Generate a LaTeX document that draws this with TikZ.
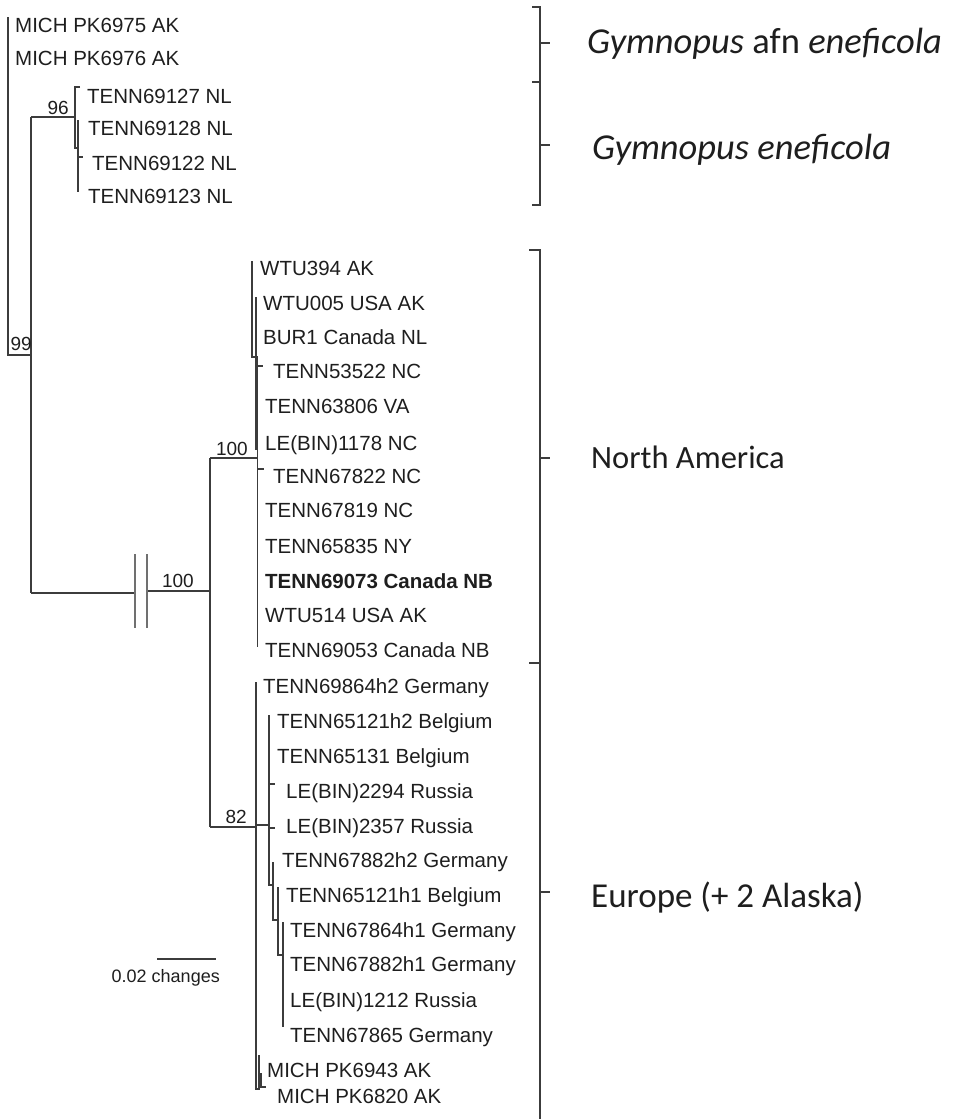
\documentclass[tikz,border=0pt]{standalone}
\usepackage{fontspec}
\setmainfont{Liberation Sans}
\newfontfamily\grpfont{Carlito}
\usepackage{tikz}
\usetikzlibrary{positioning}
\definecolor{linegray}{HTML}{3C3C3C}
\definecolor{bargray}{HTML}{707070}
\definecolor{txt}{HTML}{1E1E1E}

\begin{document}
\begin{tikzpicture}[
  x=1pt, y=-1pt,
  br/.style={draw=linegray, line width=1.3pt},
  cut/.style={draw=bargray, line width=2.4pt},
  brk/.style={draw=linegray, line width=1.6pt},
  tipl/.style={anchor=base west, inner sep=0pt, text=txt, font=\fontsize{20.5}{24}\selectfont},
  bs/.style={anchor=base east, inner sep=0pt, text=txt, font=\fontsize{19}{22}\selectfont},
  grp/.style={anchor=base west, inner sep=0pt, text=txt, font=\grpfont\fontsize{32.5}{38}\selectfont},
  grpi/.style={grp, font=\grpfont\fontsize{36.5}{42}\selectfont}
  ]
  \useasboundingbox (0,0) rectangle (956,1119);

  % root and outgroup
  \coordinate (r0)  at (8,17);
  \coordinate (n99) at (8,355);
  \coordinate (a99) at (31,355);
  \coordinate (a96) at (31,117);
  \coordinate (aIn) at (31,593);
  \draw[br] (r0) -- (n99) -- (a99);
  \draw[br] (a96) -- (aIn);
  \node[bs] (b99) at (32,350) {99};
  \node[tipl] (t6975) at (15,32) {MICH PK6975 AK};
  \node[tipl] (t6976) at (15,65) {MICH PK6976 AK};

  % eneficola clade
  \coordinate (n96)  at (75,117);
  \coordinate (c127) at (75,87);
  \coordinate (e127) at (80,87);
  \coordinate (k148) at (75,148);
  \coordinate (m148) at (78,148);
  \coordinate (c128) at (78,120);
  \coordinate (c123) at (78,192);
  \coordinate (c122) at (78,157);
  \coordinate (e122) at (83,157);
  \draw[br] (a96) -- (n96);
  \draw[br] (e127) -- (c127) -- (k148) -- (m148);
  \draw[br] (c128) -- (c123);
  \draw[br] (c122) -- (e122);
  \node[bs] (b96) at (69,114) {96};
  \node[tipl] (t69127) at (87,103) {TENN69127 NL};
  \node[tipl] (t69128) at (88,135) {TENN69128 NL};
  \node[tipl] (t69122) at (92,170) {TENN69122 NL};
  \node[tipl] (t69123) at (88,203) {TENN69123 NL};

  % long branch to the ingroup
  \coordinate (cutL) at (135,593);
  \coordinate (cutR) at (147,591);
  \coordinate (nIn)  at (210,591);
  \draw[br] (aIn) -- (cutL);
  \draw[br] (cutR) -- (nIn);
  \draw[cut] (135,554) -- (135,628);
  \draw[cut] (147,554) -- (147,628);
  \node[bs] (b100a) at (194,587) {100};

  \coordinate (nNA) at (210,458);
  \coordinate (n82) at (210,827);
  \draw[br] (nNA) -- (n82);

  % North America
  \coordinate (aNA)  at (257,458);
  \coordinate (c394) at (252,261);
  \coordinate (k357) at (252,357);
  \coordinate (m357) at (257.5,357);
  \coordinate (c005) at (256,297);
  \coordinate (k450) at (256,450);
  \coordinate (c053) at (257.5,647);
  \coordinate (c522) at (256,366);
  \coordinate (e522) at (263,366);
  \coordinate (c822) at (257.5,469);
  \coordinate (e822) at (264,469);
  \draw[br] (nNA) -- (aNA);
  \draw[br] (c394) -- (k357) -- (m357);
  \draw[br] (c005) -- (k450);
  \draw[br] (m357) -- (c053);
  \draw[br] (c522) -- (e522);
  \draw[br] (c822) -- (e822);
  \node[bs] (b100b) at (248,455) {100};
  \node[tipl] (tw394)  at (260,275) {WTU394 AK};
  \node[tipl] (tw005)  at (263,310) {WTU005 USA AK};
  \node[tipl] (tbur)   at (263,344) {BUR1 Canada NL};
  \node[tipl] (t53522) at (273,378) {TENN53522 NC};
  \node[tipl] (t63806) at (265,413) {TENN63806 VA};
  \node[tipl] (tl1178) at (265,450) {LE(BIN)1178 NC};
  \node[tipl] (t67822) at (273,483) {TENN67822 NC};
  \node[tipl] (t67819) at (265,517) {TENN67819 NC};
  \node[tipl] (t65835) at (265,553) {TENN65835 NY};
  \node[tipl, font=\fontsize{20.5}{24}\selectfont\bfseries] (t69073) at (265,588) {TENN69073 Canada NB};
  \node[tipl] (tw514)  at (265,622) {WTU514 USA AK};
  \node[tipl] (t69053) at (265,657) {TENN69053 Canada NB};

  % Europe
  \coordinate (aEU)  at (256,827);
  \coordinate (c864) at (256,682);
  \coordinate (k089) at (256,1089);
  \coordinate (m089) at (259,1089);
  \coordinate (c943) at (259,1055);
  \coordinate (c820) at (261,1073);
  \coordinate (k820) at (261,1087);
  \coordinate (e820) at (266,1087);
  \draw[br] (n82) -- (aEU);
  \draw[br] (c864) -- (k089) -- (m089) -- (c943);
  \draw[br] (c820) -- (k820) -- (e820);
  \node[bs] (b82) at (247,823) {82};

  \coordinate (aA)   at (256,825);
  \coordinate (nA)   at (269,825);
  \coordinate (cA)   at (269,715);
  \coordinate (kA)   at (269,885);
  \coordinate (nB)   at (273,885);
  \coordinate (cB)   at (273,862);
  \coordinate (kB)   at (273,920);
  \coordinate (nC)   at (278,920);
  \coordinate (cC)   at (278,887);
  \coordinate (kC)   at (278,955);
  \coordinate (nD)   at (283,955);
  \coordinate (cD)   at (283,922);
  \coordinate (kD)   at (283,1027);
  \coordinate (c294) at (269,784);
  \coordinate (e294) at (275,784);
  \coordinate (c357) at (269,828);
  \coordinate (e357) at (275,828);
  \draw[br] (aA) -- (nA);
  \draw[br] (cA) -- (kA) -- (nB);
  \draw[br] (cB) -- (kB) -- (nC);
  \draw[br] (cC) -- (kC) -- (nD);
  \draw[br] (cD) -- (kD);
  \draw[br] (c294) -- (e294);
  \draw[br] (c357) -- (e357);
  \node[tipl] (t864h2)  at (263,693)  {TENN69864h2 Germany};
  \node[tipl] (t121h2)  at (277,728)  {TENN65121h2 Belgium};
  \node[tipl] (t65131)  at (277,763)  {TENN65131 Belgium};
  \node[tipl] (tl2294)  at (286,798)  {LE(BIN)2294 Russia};
  \node[tipl] (tl2357)  at (286,833)  {LE(BIN)2357 Russia};
  \node[tipl] (t882h2)  at (282,867)  {TENN67882h2 Germany};
  \node[tipl] (t121h1)  at (286,902)  {TENN65121h1 Belgium};
  \node[tipl] (t864h1)  at (290,937)  {TENN67864h1 Germany};
  \node[tipl] (t882h1)  at (290,971)  {TENN67882h1 Germany};
  \node[tipl] (tl1212)  at (290,1007) {LE(BIN)1212 Russia};
  \node[tipl] (t67865)  at (290,1042) {TENN67865 Germany};
  \node[tipl] (t6943)   at (267,1077) {MICH PK6943 AK};
  \node[tipl] (t6820)   at (277,1103) {MICH PK6820 AK};

  % scale bar
  \coordinate (sb0) at (157,959);
  \coordinate (sb1) at (216,959);
  \draw[br] (sb0) -- (sb1);
  \node[bs, font=\fontsize{18}{21}\selectfont] (sbl) at (220,982) {0.02 changes};

  % brackets
  \coordinate (g1t) at (532,7);
  \coordinate (g1m) at (540,43);
  \coordinate (g12) at (532,82);
  \coordinate (g2m) at (540,145);
  \coordinate (g2b) at (532,205);
  \draw[brk] (g1t) -- (540,7) -- (540,82) -- (g12);
  \draw[brk] (540,82) -- (540,205) -- (g2b);
  \draw[brk] (g1m) -- (550,43);
  \draw[brk] (g2m) -- (550,145);
  \coordinate (g3t) at (529,250);
  \coordinate (g3m) at (540,458);
  \coordinate (g3b) at (529,663);
  \coordinate (g4m) at (540,892);
  \draw[brk] (g3t) -- (540,250) -- (540,663) -- (g3b);
  \draw[brk] (540,663) -- (540,1119);
  \draw[brk] (g3m) -- (550,458);
  \draw[brk] (g4m) -- (550,892);
  \node[grpi] (gafn) at (587,53)  {\textit{Gymnopus} afn \textit{eneficola}};
  \node[grpi] (gene) at (592,159) {\textit{Gymnopus eneficola}};
  \node[grp] (gna)  at (591,468) {North America};
  \node[grp, font=\grpfont\fontsize{35}{40}\selectfont] (geu) at (591,907) {Europe (+ 2 Alaska)};
\end{tikzpicture}
\end{document}
